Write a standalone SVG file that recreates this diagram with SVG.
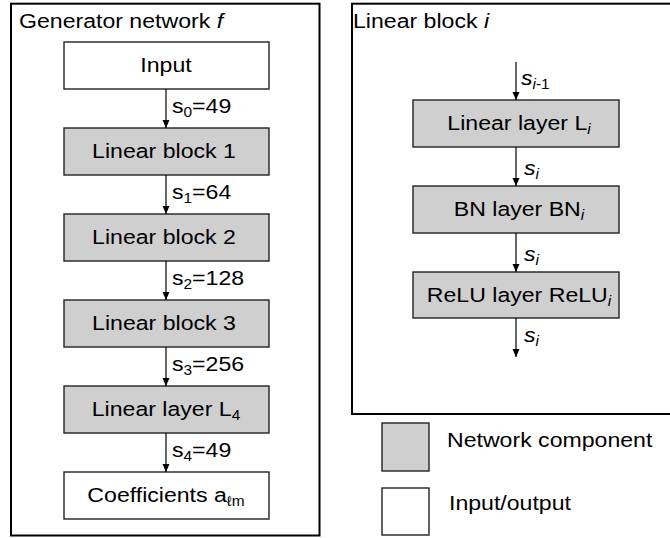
<svg xmlns="http://www.w3.org/2000/svg" width="670" height="538" viewBox="0 0 670 538">
  <style>
    .frame { fill: #ffffff; stroke: #000000; stroke-width: 2; }
    .comp { fill: #cfcfcf; stroke: #222222; stroke-width: 1.4; }
    .io { fill: #ffffff; stroke: #222222; stroke-width: 1.4; }
    text { font-family: "Liberation Sans", Arial, sans-serif; font-size: 21px; fill: #000000; }
    .mid { text-anchor: middle; }
    .it { font-style: italic; }
    .sub { font-size: 14px; }
    .edge { stroke: #000000; stroke-width: 1.2; fill: none; marker-end: url(#arrow); }
  </style>
  <defs>
    <marker id="arrow" viewBox="0 0 8 8" refX="8" refY="4" markerWidth="8" markerHeight="8" markerUnits="userSpaceOnUse" orient="auto">
      <path d="M0,0.5 L8,4 L0,7.5 Z" fill="#000000"/>
    </marker>
  </defs>

  <!-- Left panel: generator network -->
  <g id="generator-frame">
    <rect class="frame" x="11" y="3.7" width="308.5" height="531.8"/>
    <text transform="translate(19,28) scale(1.1,1)">Generator network <tspan class="it">f</tspan></text>
  </g>

  <g id="input">
    <rect class="io" x="64" y="42" width="205" height="47"/>
    <text class="mid" transform="translate(166,72) scale(1.1,1)">Input</text>
  </g>
  <g id="linear-block-1">
    <rect class="comp" x="64" y="128" width="205" height="47"/>
    <text class="mid" transform="translate(164,158) scale(1.1,1)">Linear block 1</text>
  </g>
  <g id="linear-block-2">
    <rect class="comp" x="64" y="214" width="205" height="47"/>
    <text class="mid" transform="translate(164,244) scale(1.1,1)">Linear block 2</text>
  </g>
  <g id="linear-block-3">
    <rect class="comp" x="64" y="300" width="205" height="47"/>
    <text class="mid" transform="translate(164,330) scale(1.1,1)">Linear block 3</text>
  </g>
  <g id="linear-layer-4">
    <rect class="comp" x="64" y="386" width="205" height="47"/>
    <text class="mid" transform="translate(166,416) scale(1.1,1)">Linear layer L<tspan class="sub" dy="4">4</tspan></text>
  </g>
  <g id="coefficients">
    <rect class="io" x="64" y="472" width="205" height="47"/>
    <text class="mid" transform="translate(166,502) scale(1.1,1)">Coefficients a<tspan class="sub" dy="4">ℓm</tspan></text>
  </g>

  <!-- Right panel: structure of one linear block -->
  <g id="block-frame">
    <rect class="frame" x="352" y="3.7" width="330" height="410.3"/>
    <text transform="translate(353,28) scale(1.1,1)">Linear block <tspan class="it">i</tspan></text>
  </g>
  <g id="linear-layer-i">
    <rect class="comp" x="413" y="100" width="206" height="47"/>
    <text class="mid" transform="translate(519,130) scale(1.1,1)">Linear layer L<tspan class="sub it" dy="4">i</tspan></text>
  </g>
  <g id="bn-layer-i">
    <rect class="comp" x="413" y="186" width="206" height="47"/>
    <text class="mid" transform="translate(519,216) scale(1.1,1)">BN layer BN<tspan class="sub it" dy="4">i</tspan></text>
  </g>
  <g id="relu-layer-i">
    <rect class="comp" x="413" y="272" width="206" height="46"/>
    <text class="mid" transform="translate(519,302) scale(1.1,1)">ReLU layer ReLU<tspan class="sub it" dy="4">i</tspan></text>
  </g>

  <!-- Legend -->
  <g id="legend-component">
    <rect class="comp" x="382" y="423" width="47" height="48"/>
    <text transform="translate(447,447) scale(1.1,1)">Network component</text>
  </g>
  <g id="legend-io">
    <rect class="io" x="382" y="488" width="47" height="47"/>
    <text transform="translate(449,510) scale(1.1,1)">Input/output</text>
  </g>

  <!-- Connectors and their size labels -->
  <g id="connectors">
    <line class="edge" x1="166" y1="89" x2="166" y2="128"/>
    <line class="edge" x1="166" y1="175" x2="166" y2="214"/>
    <line class="edge" x1="166" y1="261" x2="166" y2="300"/>
    <line class="edge" x1="166" y1="347" x2="166" y2="386"/>
    <line class="edge" x1="166" y1="433" x2="166" y2="472"/>
    <text transform="translate(172,113) scale(1.1,1)">s<tspan class="sub" dy="4">0</tspan><tspan dy="-4">=49</tspan></text>
    <text transform="translate(172,199) scale(1.1,1)">s<tspan class="sub" dy="4">1</tspan><tspan dy="-4">=64</tspan></text>
    <text transform="translate(172,285) scale(1.1,1)">s<tspan class="sub" dy="4">2</tspan><tspan dy="-4">=128</tspan></text>
    <text transform="translate(172,371) scale(1.1,1)">s<tspan class="sub" dy="4">3</tspan><tspan dy="-4">=256</tspan></text>
    <text transform="translate(172,457) scale(1.1,1)">s<tspan class="sub" dy="4">4</tspan><tspan dy="-4">=49</tspan></text>

    <line class="edge" x1="516" y1="62" x2="516" y2="100"/>
    <line class="edge" x1="516" y1="147" x2="516" y2="186"/>
    <line class="edge" x1="516" y1="233" x2="516" y2="272"/>
    <line class="edge" x1="516" y1="318" x2="516" y2="357"/>
    <text class="it" transform="translate(521,85) scale(1.1,1)">s<tspan class="sub" dy="4">i</tspan><tspan class="sub" font-style="normal">-1</tspan></text>
    <text class="it" transform="translate(524,175) scale(1.1,1)">s<tspan class="sub" dy="4">i</tspan></text>
    <text class="it" transform="translate(524,261) scale(1.1,1)">s<tspan class="sub" dy="4">i</tspan></text>
    <text class="it" transform="translate(524,342) scale(1.1,1)">s<tspan class="sub" dy="4">i</tspan></text>
  </g>
</svg>
